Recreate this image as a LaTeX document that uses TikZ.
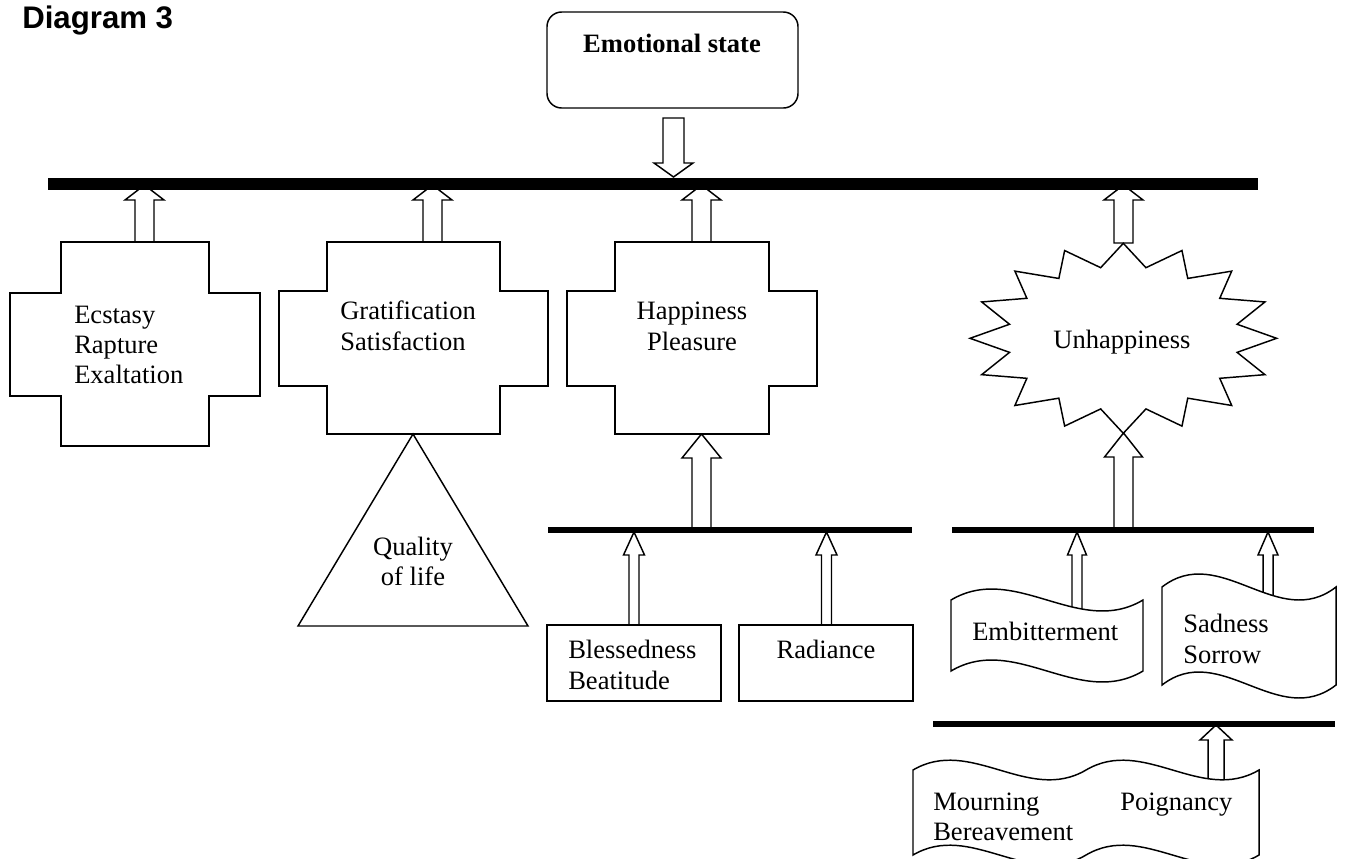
\documentclass[tikz,border=0pt]{standalone}
\usepackage{fontspec}
\setmainfont{Liberation Serif}
\newfontfamily\titlefont{Liberation Sans}
\newcommand{\lblfont}{\fontsize{19.9}{23}\selectfont}
\tikzset{
  outline/.style={draw=black, line width=1.1pt, fill=white, line join=miter},
  blk/.style={draw=black, line width=1.1pt, fill=white},
  mainbar/.style={line width=9pt},
  subbar/.style={line width=4.5pt},
  lbl/.style={inner sep=0pt, font=\lblfont},
}
% x, y-start (shaft end), y-tip, y-headbase, shaft half width, head half width
\newcommand{\barrow}[6]{%
  \filldraw[blk] ({#1-#5},#2) -- ({#1-#5},#4) -- ({#1-#6},#4) -- (#1,#3) -- ({#1+#6},#4) -- ({#1+#5},#4) -- ({#1+#5},#2) -- cycle;}
\begin{document}
\begin{tikzpicture}[x=0.75pt,y=-0.75pt]
\useasboundingbox (0,0) rectangle (1345,858);

% title
\node[inner sep=0pt, anchor=base west, font=\titlefont\bfseries\fontsize{23.4}{28}\selectfont] (title) at (22,28) {Diagram 3};

% Emotional state box
\draw[outline, rounded corners=11pt] (547,12) rectangle (798,108);
\node[lbl, anchor=base, font=\lblfont\bfseries] (emo) at (672,52) {Emotional state};

% ---- arrows (drawn first, shapes cover their feet) ----
\barrow{673.5}{118}{177}{163}{10.5}{19.5}
\barrow{144.5}{246}{185}{200}{9.5}{19.5}
\barrow{432.5}{246}{185}{200}{9.5}{19.5}
\barrow{701.5}{246}{185}{200}{9.5}{19.5}
\barrow{1123.5}{243}{185}{200}{9.5}{19.5}
\barrow{701.5}{530}{434}{458}{9.5}{19.5}
\barrow{1123.5}{530}{433}{457}{9.5}{19}
\barrow{634}{628}{532}{555}{5}{10.5}
\barrow{826.5}{628}{532}{555}{5}{10.5}
\barrow{1077}{620}{532}{555}{5}{9.5}
\barrow{1268}{600}{532}{555}{5}{10}
\barrow{1216}{790}{725}{740}{8}{16}

% ---- crosses ----
\draw[outline] (61,242) -- (209,242) -- (209,293) -- (260,293) -- (260,396) -- (209,396)
  -- (209,446) -- (61,446) -- (61,396) -- (10,396) -- (10,293) -- (61,293) -- cycle;
\draw[outline] (327,242) -- (500,242) -- (500,291) -- (548,291) -- (548,386) -- (500,386)
  -- (500,434) -- (327,434) -- (327,386) -- (279,386) -- (279,291) -- (327,291) -- cycle;
\draw[outline] (615,242) -- (769,242) -- (769,291) -- (817,291) -- (817,386) -- (769,386)
  -- (769,434) -- (615,434) -- (615,386) -- (567,386) -- (567,291) -- (615,291) -- cycle;

% triangle
\draw[outline] (413,434) -- (528,626) -- (298,626) -- cycle;

% rectangles
\draw[outline] (547,625) rectangle (721,701);
\draw[outline] (739,625) rectangle (913,701);

% star
\draw[outline] (1123.3,243.3)
  \foreach \i in {1,...,31}{ -- ({1123.3+ifthenelse(isodd(\i),116,153.3)*sin(\i*11.25)},
                                {338.3-ifthenelse(isodd(\i),72,95)*cos(\i*11.25)}) } -- cycle;

% waves
\draw[outline] (951,600) .. controls (1015,562) and (1079,638) .. (1143,600)
  -- (1143,671) .. controls (1079,709) and (1015,633) .. (951,671) -- cycle;
\draw[outline] (1162,587) .. controls (1220,542) and (1278,632) .. (1336,587)
  -- (1336,685) .. controls (1278,730) and (1220,640) .. (1162,685) -- cycle;
\draw[outline] (913,770) .. controls (970.7,736) and (1028.3,804) .. (1086,770)
  .. controls (1143.7,736) and (1201.3,804) .. (1259,770)
  -- (1259,855) .. controls (1201.3,889) and (1143.7,821) .. (1086,855)
  .. controls (1028.3,889) and (970.7,821) .. (913,855) -- cycle;

% ---- bars ----
\draw[mainbar] (48,184) -- (1258,184);
\draw[subbar] (548,530) -- (912,530);
\draw[subbar] (952,530) -- (1314,530);
\draw[subbar] (933,724) -- (1335,724);

% ---- texts ----
\node[lbl, anchor=base west] (ecs) at (74,323) {Ecstasy};
\node[lbl, anchor=base west] (rap) at (74,353) {Rapture};
\node[lbl, anchor=base west] (exa) at (74,383) {Exaltation};
\node[lbl, anchor=base west] (grat) at (340,319) {Gratification};
\node[lbl, anchor=base west] (sat) at (340,350) {Satisfaction};
\node[lbl, anchor=base] (happ) at (692,319) {Happiness};
\node[lbl, anchor=base] (plea) at (692,350) {Pleasure};
\node[lbl, anchor=base] (qual) at (413,555) {Quality};
\node[lbl, anchor=base] (life) at (413,585) {of life};
\node[lbl, anchor=base west] (bless) at (568,658) {Blessedness};
\node[lbl, anchor=base west] (beat) at (568,689) {Beatitude};
\node[lbl, anchor=base] (rad) at (826,658) {Radiance};
\node[lbl, anchor=base] (unh) at (1122,348) {Unhappiness};
\node[lbl, anchor=base west] (emb) at (972,640) {Embitterment};
\node[lbl, anchor=base west] (sad) at (1183,632) {Sadness};
\node[lbl, anchor=base west] (sor) at (1183,663) {Sorrow};
\node[lbl, anchor=base west] (mou) at (933,810) {Mourning};
\node[lbl, anchor=base west] (poi) at (1120,810) {Poignancy};
\node[lbl, anchor=base west] (ber) at (933,840) {Bereavement};
\end{tikzpicture}
\end{document}
